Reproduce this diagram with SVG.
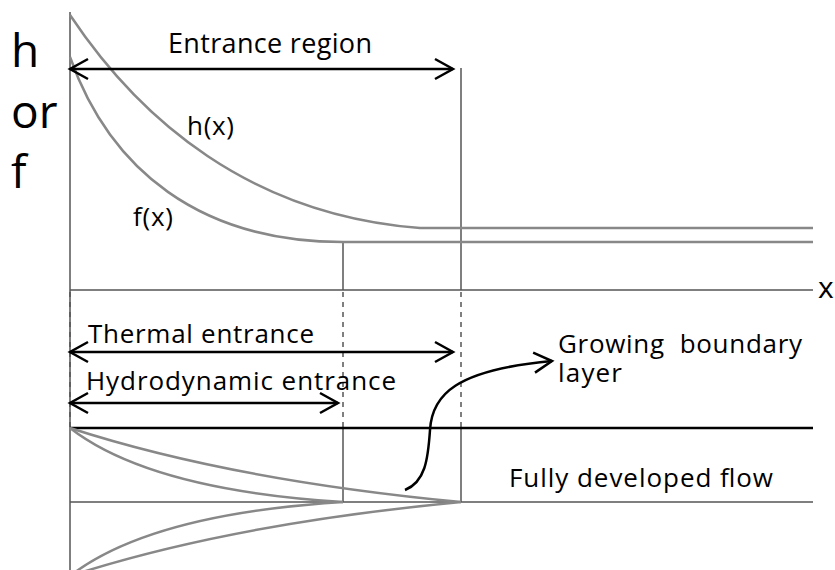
<svg xmlns="http://www.w3.org/2000/svg" width="835" height="570" viewBox="0 0 835 570">
<defs>
<style>
text{font-family:"Open Sans","Noto Sans","Liberation Sans",sans-serif;fill:#000;white-space:pre}
.axis{stroke:#555;stroke-width:1.5;fill:none}
.dash{stroke:#555;stroke-width:1.5;stroke-dasharray:5,5;fill:none}
.curve{stroke:#888;stroke-width:2.5;fill:none}
.arr{stroke:#000;stroke-width:2.5;fill:none;marker-start:url(#head);marker-end:url(#head)}
.lbl{font-size:26px}
.big{font-size:46px}
</style>
<marker id="head" markerUnits="userSpaceOnUse" markerWidth="40" markerHeight="40" viewBox="-20 -20 40 40" refX="0" refY="0" orient="auto-start-reverse">
<path d="M-18,-10 L0,0 L-18,10" fill="none" stroke="#000" stroke-width="2.5"/>
</marker>
<marker id="head1" markerUnits="userSpaceOnUse" markerWidth="40" markerHeight="40" viewBox="-20 -20 40 40" refX="0" refY="0" orient="auto">
<path d="M-18,-10 L0,0 L-18,10" fill="none" stroke="#000" stroke-width="2.5"/>
</marker>
</defs>
<rect width="835" height="570" fill="#fff"/>
<g id="axes">
<line class="axis" x1="70" y1="12" x2="70" y2="570"/>
<line class="axis" x1="70" y1="290" x2="813" y2="290"/>
<line class="axis" x1="343" y1="242" x2="343" y2="290"/>
<line class="axis" x1="461" y1="68" x2="461" y2="290"/>
<line class="dash" x1="70" y1="292" x2="70" y2="428"/>
<line class="dash" x1="343" y1="292" x2="343" y2="428"/>
<line class="dash" x1="461" y1="292" x2="461" y2="428"/>
<line class="axis" x1="343" y1="428" x2="343" y2="502"/>
<line class="axis" x1="461" y1="428" x2="461" y2="502"/>
<line class="axis" x1="70" y1="502" x2="813" y2="502"/>
<line x1="70" y1="428" x2="813" y2="428" stroke="#000" stroke-width="2.5"/>
</g>
<g id="curves">
<path class="curve" d="M70,15 C140,120 250,215 420,228 L813,228"/>
<path class="curve" d="M70,57 C110,170 200,242 343,242 L813,242"/>
<path class="curve" d="M70,428 Q230,480 461,502"/>
<path class="curve" d="M70,428 Q150,490 343,502"/>
<path class="curve" d="M70,576 Q230,524 461,502"/>
<path class="curve" d="M70,576 Q150,514 343,502"/>
</g>
<g id="connectors">
<line class="arr" x1="70" y1="69" x2="453" y2="69"/>
<line class="arr" x1="70" y1="352" x2="453" y2="352"/>
<line class="arr" x1="70" y1="403" x2="338" y2="403"/>
<path d="M405,490 C425,482 428,460 430,430 C432,395 455,370 552,361" fill="none" stroke="#000" stroke-width="2.5" marker-end="url(#head1)"/>
</g>
<g id="labels">
<text class="big" x="11" y="67">h</text>
<text class="big" x="11" y="128">or</text>
<text class="big" x="11" y="188">f</text>
<text x="168" y="53" font-size="27" textLength="204" lengthAdjust="spacing">Entrance region</text>
<text class="lbl" x="187" y="135" textLength="47" lengthAdjust="spacing">h(x)</text>
<text class="lbl" x="133" y="226" textLength="40" lengthAdjust="spacing">f(x)</text>
<text x="818" y="298" font-size="30">x</text>
<text class="lbl" x="88" y="343" textLength="226" lengthAdjust="spacing">Thermal entrance</text>
<text class="lbl" x="86" y="390" textLength="310" lengthAdjust="spacing">Hydrodynamic entrance</text>
<text class="lbl" x="558" y="353" textLength="244" lengthAdjust="spacing">Growing  boundary</text>
<text class="lbl" x="558" y="382" textLength="64" lengthAdjust="spacing">layer</text>
<text class="lbl" x="509" y="487" textLength="264" lengthAdjust="spacing">Fully developed flow</text>
</g>
</svg>
